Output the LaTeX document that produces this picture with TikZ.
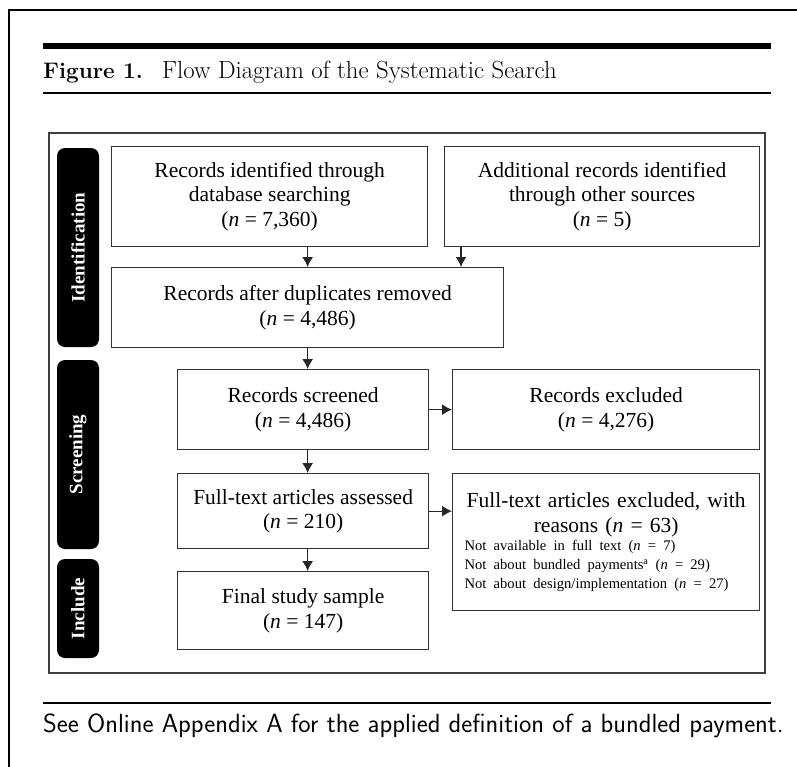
\documentclass[tikz,border=0pt]{standalone}
\usepackage{fontspec}
\newfontfamily\boxfont{Liberation Serif}
\usepackage{tikz}
\usetikzlibrary{arrows.meta,positioning,calc}

\begin{document}
\begin{tikzpicture}[x=1pt, y=-1pt,
    rec/.style={rectangle, draw=black!80, line width=1.3pt, anchor=north west, inner sep=0pt, align=center, font=\boxfont\fontsize{21.5}{24.5}\selectfont},
    stage/.style={rectangle, fill=black, rounded corners=8pt, minimum height=42pt, inner sep=0pt, rotate=90, text=white, font=\boxfont\bfseries\fontsize{19}{22}\selectfont},
    arrow/.style={-{Latex[length=10pt,width=11pt]}, line width=1.3pt, black!85}
]
\useasboundingbox (0,0) rectangle (797,766);

% Outer page frame
\draw[line width=2.5pt] (9,800) -- (9,10) -- (830,10);

% Caption
\draw[line width=6pt] (43,46) -- (771,46);
\node[anchor=base west, inner sep=0pt, font=\fontsize{22.5}{26}\selectfont\bfseries] (fignum) at (43,78) {Figure 1.};
\node[anchor=base west, inner sep=0pt, font=\fontsize{24.8}{28}\selectfont] (figtitle) at (162,78) {Flow Diagram of the Systematic Search};
\draw[line width=1.3pt] (43,93) -- (771,93);

% Diagram frame
\draw[line width=1.8pt, black!75] (49,133) rectangle (765,673);

% Stages
\node[stage, minimum width=199pt] (sid) at (78,247.5) {Identification};
\node[stage, minimum width=189pt] (sscr) at (78,454.5) {Screening};
\node[stage, minimum width=99pt] (sinc) at (78,608.5) {Include};

% Identification
\node[rec, minimum width=316pt, minimum height=100pt] (db) at (111,146) {Records identified through\\database searching\\(\textit{n} = 7,360)};
\node[rec, minimum width=315pt, minimum height=100pt] (other) at (444,146) {Additional records identified\\through other sources\\(\textit{n} = 5)};
\node[rec, minimum width=392pt, minimum height=80pt] (dup) at (111,267) {Records after duplicates removed\\(\textit{n} = 4,486)};

% Screening
\node[rec, minimum width=251pt, minimum height=80pt] (scr) at (177,369) {Records screened\\(\textit{n} = 4,486)};
\node[rec, minimum width=307pt, minimum height=80pt] (excl) at (452,369) {Records excluded\\(\textit{n} = 4,276)};
\node[rec, minimum width=251pt, minimum height=75pt] (full) at (177,473) {Full-text articles assessed\\(\textit{n} = 210)};
\node[rec, minimum width=307pt, minimum height=137pt, text width=283pt, align=left] (fexcl) at (452,473) {{\centering Full-text articles excluded, with\\reasons (\textit{n} = 63)\par}{\fontsize{14.6}{18.7}\selectfont Not available in full text (\textit{n} = 7)\\Not about bundled payments\textsuperscript{a} (\textit{n} = 29)\\Not about design/implementation (\textit{n} = 27)\par}};

% Include
\node[rec, minimum width=251pt, minimum height=78pt] (final) at (177,571) {Final study sample\\(\textit{n} = 147)};

% Arrows
\draw[arrow] (db.south -| dup.north) -- (dup.north);
\draw[arrow] ([xshift=17pt]other.south west) -- ([xshift=17pt]other.south west |- dup.north);
\draw[arrow] (dup.south) -- (dup.south |- scr.north);
\draw[arrow] (scr.east) -- (excl.west);
\draw[arrow] (scr.south -| dup.south) -- (full.north -| dup.south);
\draw[arrow] (full.east) -- (full.east -| fexcl.west);
\draw[arrow] (full.south -| dup.south) -- (final.north -| dup.south);

% Note
\draw[line width=1.3pt] (43,703) -- (771,703);
\node[anchor=base west, inner sep=0pt, font=\sffamily\fontsize{26.3}{30}\selectfont] (note) at (43,732) {See Online Appendix A for the applied definition of a bundled payment.};

\end{tikzpicture}
\end{document}
